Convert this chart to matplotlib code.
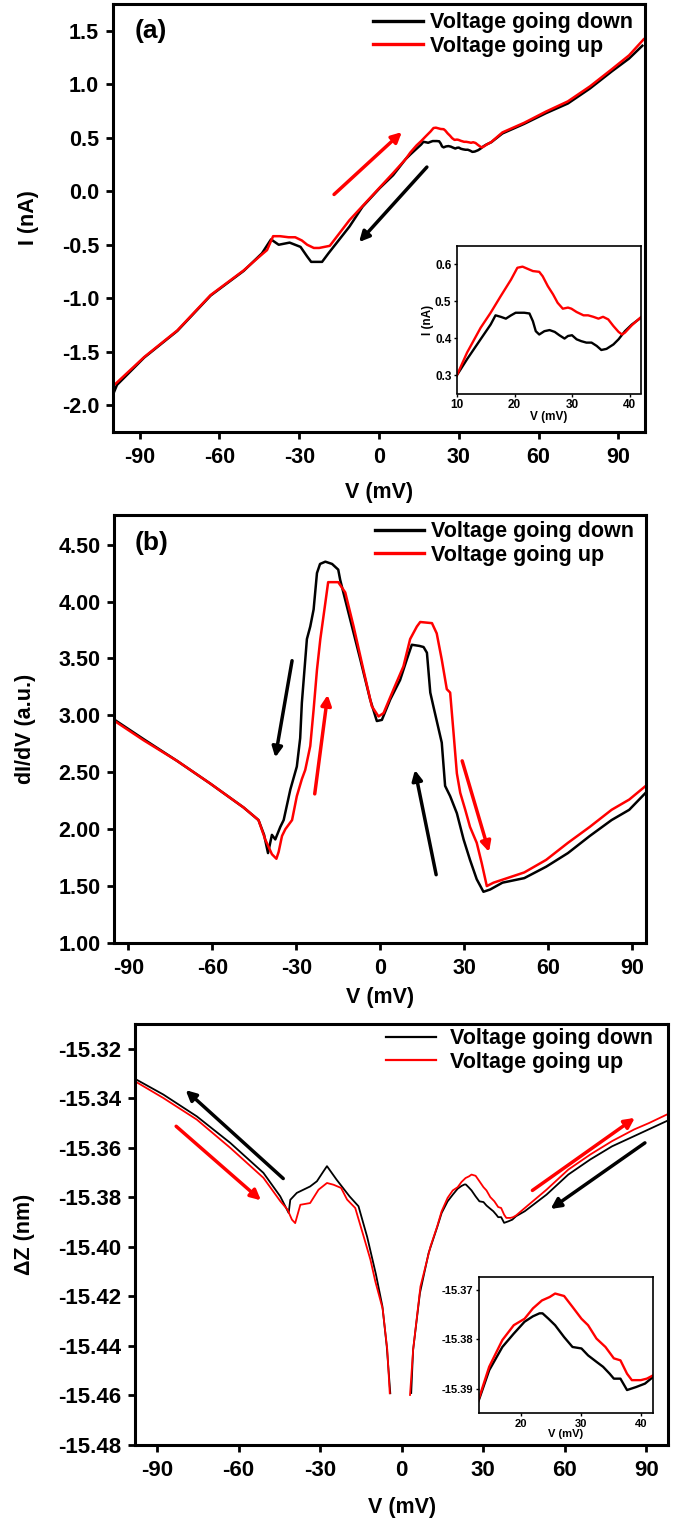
import matplotlib
matplotlib.use("Agg")
import matplotlib.pyplot as plt
from matplotlib.lines import Line2D

# ---------------- data ----------------
# (a) I-V curve
v_a_down = [-99.5, -98.5, -88.3, -75.8, -63.3, -50.9, -44, -40.6, -37.7, -33.6, -29.5,
            -27, -25.5, -21.4, -19, -11.1, -6.2, 0.3, 5.3, 10, 11.75, 14.1, 15.85, 16.7,
            17.6, 18.5, 19.4, 20.2, 21.7, 22.6, 23.2, 23.7, 24.3, 25.2, 26.1, 27.0, 27.8,
            28.7, 29.3, 30.0, 30.8, 31.6, 32.5, 33.4, 34.3, 35.1, 36.0, 37.2, 38.1, 39.2,
            40.4, 42.2, 46.4, 54.6, 62.8, 71.0, 79.3, 87.5, 94, 99]
i_a_down = [-1.87, -1.81, -1.555, -1.305, -0.975, -0.745, -0.58, -0.45, -0.50, -0.48,
            -0.52, -0.61, -0.66, -0.66, -0.58, -0.33, -0.145, 0.03, 0.15, 0.30, 0.343,
            0.397, 0.437, 0.462, 0.458, 0.453, 0.462, 0.469, 0.469, 0.467, 0.446, 0.419,
            0.41, 0.419, 0.422, 0.417, 0.408, 0.399, 0.406, 0.408, 0.397, 0.392, 0.388,
            0.388, 0.379, 0.368, 0.371, 0.383, 0.397, 0.419, 0.437, 0.458, 0.54, 0.63,
            0.73, 0.82, 0.96, 1.12, 1.24, 1.36]

v_a_up = [-99.5, -88.3, -75.8, -63.3, -50.9, -44, -42.1, -39.8, -37.2, -34, -31.5, -29,
          -27, -24.5, -22.5, -18.5, -11.1, -2.9, 5.3, 10, 11.75, 14.1, 15.85, 17.6, 19.4,
          20.5, 21.4, 22.3, 23.2, 24.3, 24.9, 25.8, 26.7, 27.5, 28.4, 29.3, 29.9, 30.8,
          32.0, 32.8, 33.7, 34.6, 35.4, 36.3, 37.2, 38.1, 38.7, 39.2, 40.4, 42.2, 46.4,
          54.6, 62.8, 71.0, 79.3, 87.5, 94, 99.5]
i_a_up = [-1.81, -1.55, -1.30, -0.97, -0.74, -0.59, -0.55, -0.42, -0.42, -0.43, -0.43,
          -0.46, -0.50, -0.53, -0.53, -0.51, -0.27, -0.05, 0.17, 0.30, 0.361, 0.428,
          0.469, 0.514, 0.559, 0.591, 0.594, 0.588, 0.582, 0.58, 0.568, 0.541, 0.519,
          0.496, 0.48, 0.483, 0.48, 0.471, 0.462, 0.462, 0.458, 0.453, 0.458, 0.451,
          0.433, 0.417, 0.41, 0.415, 0.435, 0.46, 0.55, 0.64, 0.745, 0.84, 0.98, 1.14,
          1.27, 1.42]

# (b) dI/dV curve
v_b_down = [-94.9, -84.5, -72.6, -60.7, -48.8, -43.5, -41.5, -40.1, -38.7, -37.5, -35.7,
            -34.5, -32.1, -29.8, -28.6, -28.0, -26.2, -25.0, -23.8, -22.6, -21.5, -19.6,
            -17.2, -15.0, -14.3, -10.7, -7.1, -3.6, -1.2, 0.6, 3.6, 7.1, 9.5, 11.3, 14.0,
            15.5, 16.7, 17.9, 19.0, 22.0, 23.2, 25.0, 27.4, 29.8, 32.1, 34.5, 36.9, 39.3,
            43.7, 51.5, 59.3, 67.1, 74.9, 82.7, 89.0, 94.9]
didv_b_down = [2.96, 2.79, 2.60, 2.40, 2.19, 2.08, 1.95, 1.79, 1.95, 1.91, 2.02, 2.08,
               2.35, 2.55, 2.80, 3.11, 3.67, 3.78, 3.93, 4.25, 4.33, 4.35, 4.33, 4.28,
               4.19, 3.84, 3.49, 3.14, 2.95, 2.96, 3.14, 3.31, 3.49, 3.62, 3.61, 3.60,
               3.55, 3.20, 3.08, 2.76, 2.38, 2.29, 2.14, 1.91, 1.73, 1.56, 1.45, 1.47,
               1.53, 1.57, 1.67, 1.79, 1.94, 2.08, 2.17, 2.32]

v_b_up = [-94.9, -84.5, -72.6, -60.7, -48.8, -43.5, -41.1, -38.7, -37.1, -36.3, -35.1,
          -33.9, -31.5, -29.8, -28.0, -26.8, -25.0, -23.8, -22.6, -21.4, -19.6, -18.6,
          -15.0, -12.5, -9.5, -6.0, -3.0, -0.6, 1.2, 4.8, 8.3, 10.7, 13.1, 14.3, 18.5,
          20.2, 22.0, 23.8, 25.0, 26.2, 27.4, 28.6, 30.4, 32.1, 34.5, 36.3, 38.1, 40.5,
          51.5, 59.3, 67.1, 74.9, 82.7, 89.0, 94.9]
didv_b_up = [2.95, 2.78, 2.60, 2.40, 2.19, 2.08, 1.91, 1.78, 1.74, 1.80, 1.94, 2.00,
             2.08, 2.29, 2.44, 2.52, 2.73, 3.05, 3.40, 3.67, 3.99, 4.17, 4.17, 4.08,
             3.78, 3.40, 3.08, 2.99, 3.02, 3.23, 3.43, 3.67, 3.78, 3.82, 3.81, 3.72,
             3.49, 3.23, 3.20, 2.85, 2.49, 2.32, 2.17, 2.02, 1.88, 1.70, 1.50, 1.53,
             1.62, 1.73, 1.88, 2.02, 2.17, 2.26, 2.38]

# (c) Delta Z curve, negative and positive branches
v_c_down_neg = [-98.2, -87.7, -75.4, -63.1, -50.9, -44.7, -41.6, -41.0, -38.6, -33.7,
                -31.2, -28.8, -27.5, -24.0, -19.2, -15.9, -12.7, -9.5, -7.1, -5.5, -4.2]
z_c_down_neg = [-15.3321, -15.3385, -15.3473, -15.3580, -15.3701, -15.3796, -15.3863,
                -15.3810, -15.3782, -15.3756, -15.3735, -15.3695, -15.3674, -15.3728,
                -15.3796, -15.3836, -15.3960, -15.4110, -15.4240, -15.4402, -15.4591]
v_c_down_pos = [3.5, 4.2, 6.7, 9.9, 13.07, 14.7, 16.9, 18.8, 20.6, 22.0, 23.1, 23.6,
                24.6, 25.7, 27.2, 28.6, 30.1, 31.2, 32.6, 33.7, 34.8, 35.5, 36.6, 37.7,
                39.2, 40.7, 42.1, 45.3, 53.3, 61.3, 69.4, 77.4, 85.5, 91, 97.5]
z_c_down_pos = [-15.4590, -15.4416, -15.4187, -15.4025, -15.3920, -15.3863, -15.3816,
                -15.3789, -15.3765, -15.3754, -15.3748, -15.3748, -15.3759, -15.3772,
                -15.3796, -15.3816, -15.3819, -15.3833, -15.3846, -15.3856, -15.3870,
                -15.3880, -15.3880, -15.3903, -15.3897, -15.3890, -15.3876, -15.3856,
                -15.3789, -15.3708, -15.3647, -15.3594, -15.3553, -15.3525, -15.3492]

v_c_up_neg = [-98.2, -87.7, -75.4, -63.1, -50.9, -44.7, -42, -40.4, -39.2, -37.3,
              -33.7, -30.6, -27.5, -25.1, -22.3, -20.1, -17.1, -14, -11.5, -9.7, -7.0,
              -5.3, -4.4]
z_c_up_neg = [-15.3331, -15.3399, -15.3486, -15.3600, -15.3721, -15.3815, -15.3850,
              -15.3890, -15.3904, -15.3830, -15.3823, -15.3769, -15.3742, -15.3749,
              -15.3762, -15.3809, -15.3843, -15.3958, -15.4052, -15.4140, -15.4250,
              -15.4416, -15.4591]
v_c_up_pos = [3.06, 4.2, 6.9, 10.6, 13.07, 14.7, 16.9, 18.8, 20.6, 22.0, 23.5, 24.8,
              25.7, 27.2, 28.6, 30.1, 31.2, 32.6, 34.1, 35.5, 36.6, 37.7, 38.5, 40, 41,
              42.1, 45.3, 53.3, 61.3, 69.4, 77.4, 85.5, 91, 97.5]
z_c_up_pos = [-15.4598, -15.4416, -15.4160, -15.3998, -15.3917, -15.3856, -15.3802,
              -15.3772, -15.3759, -15.3738, -15.3722, -15.3715, -15.3708, -15.3713,
              -15.3735, -15.3759, -15.3772, -15.3799, -15.3816, -15.3839, -15.3843,
              -15.3870, -15.3883, -15.3883, -15.3880, -15.3873, -15.3843, -15.3769,
              -15.3688, -15.3627, -15.3573, -15.3526, -15.3500, -15.3466]

# direction arrows: (x_start, y_start, x_end, y_end, colour)
arrows_a = [(-16.9, -0.03, 8.6, 0.553, "red"),
            (18.0, 0.226, -7.5, -0.475, "black")]
arrows_b = [(-31.5, 3.48, -37.5, 2.63, "black"),
            (-23.4, 2.31, -18.75, 3.18, "red"),
            (20.0, 1.60, 12.4, 2.52, "black"),
            (29.3, 2.60, 38.9, 1.80, "red")]
arrows_c = [(-43.6, -15.3724, -79.5, -15.3367, "black"),
            (-83.0, -15.3513, -51.8, -15.3812, "red"),
            (48.1, -15.3772, 85.8, -15.3479, "red"),
            (89.5, -15.3580, 54.8, -15.3847, "black")]

legend_labels = ["Voltage going down", "Voltage going up"]

# ---------------- style ----------------
plt.rcParams["font.family"] = ["Liberation Sans", "DejaVu Sans"]
plt.rcParams["font.weight"] = "bold"
plt.rcParams["axes.labelweight"] = "bold"
plt.rcParams["axes.unicode_minus"] = False

W, H = 683, 1532
fig = plt.figure(figsize=(W / 100, H / 100), dpi=100)


def px_axes(left, top, right, bottom):
    return fig.add_axes([left / W, 1 - bottom / H, (right - left) / W, (bottom - top) / H])


def style_main(ax, lw=2.2):
    for s in ax.spines.values():
        s.set_linewidth(lw)
    ax.tick_params(direction="out", length=5, width=2, labelsize=15.5)
    ax.tick_params(axis="x", pad=6)
    ax.tick_params(axis="y", pad=5)


def style_inset(ax, size=8):
    for s in ax.spines.values():
        s.set_linewidth(1.2)
    ax.tick_params(direction="out", length=2.5, width=1.0, labelsize=size, pad=1.5)


def draw_arrows(ax, arrows, lw=2.5, scale=15):
    for x0, y0, x1, y1, c in arrows:
        ax.annotate("", xy=(x1, y1), xytext=(x0, y0),
                    arrowprops=dict(arrowstyle="-|>", color=c, lw=lw,
                                    mutation_scale=scale, shrinkA=0, shrinkB=0))


def add_legend(ax, x, y, lw, textpad):
    handles = [Line2D([], [], color="black", lw=lw), Line2D([], [], color="red", lw=lw)]
    ax.legend(handles, legend_labels, loc="upper left", bbox_to_anchor=(x, y),
              frameon=False, fontsize=15.5, handlelength=2.3, handletextpad=textpad,
              labelspacing=0.12, borderpad=0, borderaxespad=0)


# ---------------- (a) ----------------
ax_a = px_axes(113, 4, 645, 432)
ax_a.plot(v_a_down, i_a_down, color="black", lw=1.8)
ax_a.plot(v_a_up, i_a_up, color="red", lw=1.8)
ax_a.set_xlim(-100, 100)
ax_a.set_ylim(-2.25, 1.75)
ax_a.set_xticks([-90, -60, -30, 0, 30, 60, 90])
ax_a.set_yticks([-2.0, -1.5, -1.0, -0.5, 0.0, 0.5, 1.0, 1.5])
ax_a.set_yticklabels([f"{t:.1f}" for t in ax_a.get_yticks()])
style_main(ax_a)
ax_a.set_xlabel("V (mV)", fontsize=15.5)
ax_a.set_ylabel("I (nA)", fontsize=15.5)
ax_a.xaxis.set_label_coords(0.5, -0.117)
ax_a.yaxis.set_label_coords(-0.139, 0.5)
ax_a.text(0.041, 0.965, "(a)", transform=ax_a.transAxes, fontsize=19,
          ha="left", va="top")
draw_arrows(ax_a, arrows_a)
add_legend(ax_a, 0.489, 0.981, 2.4, 0.32)

ins_a = px_axes(457, 246, 641, 393.5)
ins_a.plot(v_a_down, i_a_down, color="black", lw=1.7)
ins_a.plot(v_a_up, i_a_up, color="red", lw=1.7)
ins_a.set_xlim(10, 42)
ins_a.set_ylim(0.25, 0.65)
ins_a.set_xticks([10, 20, 30, 40])
ins_a.set_yticks([0.3, 0.4, 0.5, 0.6])
style_inset(ins_a, 8.5)
ins_a.set_xlabel("V (mV)", fontsize=8.5, labelpad=0)
ins_a.set_ylabel("I (nA)", fontsize=8.5, labelpad=1)

# ---------------- (b) ----------------
ax_b = px_axes(114.4, 515, 646, 943)
ax_b.plot(v_b_down, didv_b_down, color="black", lw=1.8)
ax_b.plot(v_b_up, didv_b_up, color="red", lw=1.8)
ax_b.set_xlim(-95, 95)
ax_b.set_ylim(1.0, 4.76)
ax_b.set_xticks([-90, -60, -30, 0, 30, 60, 90])
ax_b.set_yticks([1.0, 1.5, 2.0, 2.5, 3.0, 3.5, 4.0, 4.5])
ax_b.set_yticklabels([f"{t:.2f}" for t in ax_b.get_yticks()])
style_main(ax_b)
ax_b.set_xlabel("V (mV)", fontsize=15.5)
ax_b.set_ylabel("dI/dV (a.u.)", fontsize=15.5)
ax_b.xaxis.set_label_coords(0.5, -0.103)
ax_b.yaxis.set_label_coords(-0.147, 0.5)
ax_b.text(0.038, 0.962, "(b)", transform=ax_b.transAxes, fontsize=19,
          ha="left", va="top")
draw_arrows(ax_b, arrows_b)
add_legend(ax_b, 0.490, 0.985, 2.4, 0.32)

# ---------------- (c) ----------------
ax_c = px_axes(135.4, 1024, 668, 1445)
ax_c.plot(v_c_down_neg, z_c_down_neg, color="black", lw=1.3)
ax_c.plot(v_c_down_pos, z_c_down_pos, color="black", lw=1.3)
ax_c.plot(v_c_up_neg, z_c_up_neg, color="red", lw=1.3)
ax_c.plot(v_c_up_pos, z_c_up_pos, color="red", lw=1.3)
ax_c.set_xlim(-98, 98)
ax_c.set_ylim(-15.48, -15.31)
ax_c.set_xticks([-90, -60, -30, 0, 30, 60, 90])
ax_c.set_yticks([-15.48, -15.46, -15.44, -15.42, -15.40, -15.38, -15.36, -15.34, -15.32])
ax_c.set_yticklabels([f"{t:.2f}" for t in ax_c.get_yticks()])
style_main(ax_c)
ax_c.tick_params(labelsize=16)
ax_c.set_xlabel("V (mV)", fontsize=15.5)
ax_c.set_ylabel("\u0394Z (nm)", fontsize=15.5)
ax_c.xaxis.set_label_coords(0.5, -0.1235)
ax_c.yaxis.set_label_coords(-0.1885, 0.5)
draw_arrows(ax_c, arrows_c)
add_legend(ax_c, 0.4705, 0.990, 1.6, 0.68)

ins_c = px_axes(479, 1276.7, 652.8, 1413.3)
ins_c.plot(v_c_down_pos, z_c_down_pos, color="black", lw=1.7)
ins_c.plot(v_c_up_pos, z_c_up_pos, color="red", lw=1.7)
ins_c.set_xlim(13, 42)
ins_c.set_ylim(-15.395, -15.3674)
ins_c.set_xticks([20, 30, 40])
ins_c.set_yticks([-15.39, -15.38, -15.37])
ins_c.set_yticklabels([f"{t:.2f}" for t in ins_c.get_yticks()])
style_inset(ins_c)
ins_c.set_xlabel("V (mV)", fontsize=8, labelpad=0)

fig.savefig("out.png", dpi=100)
